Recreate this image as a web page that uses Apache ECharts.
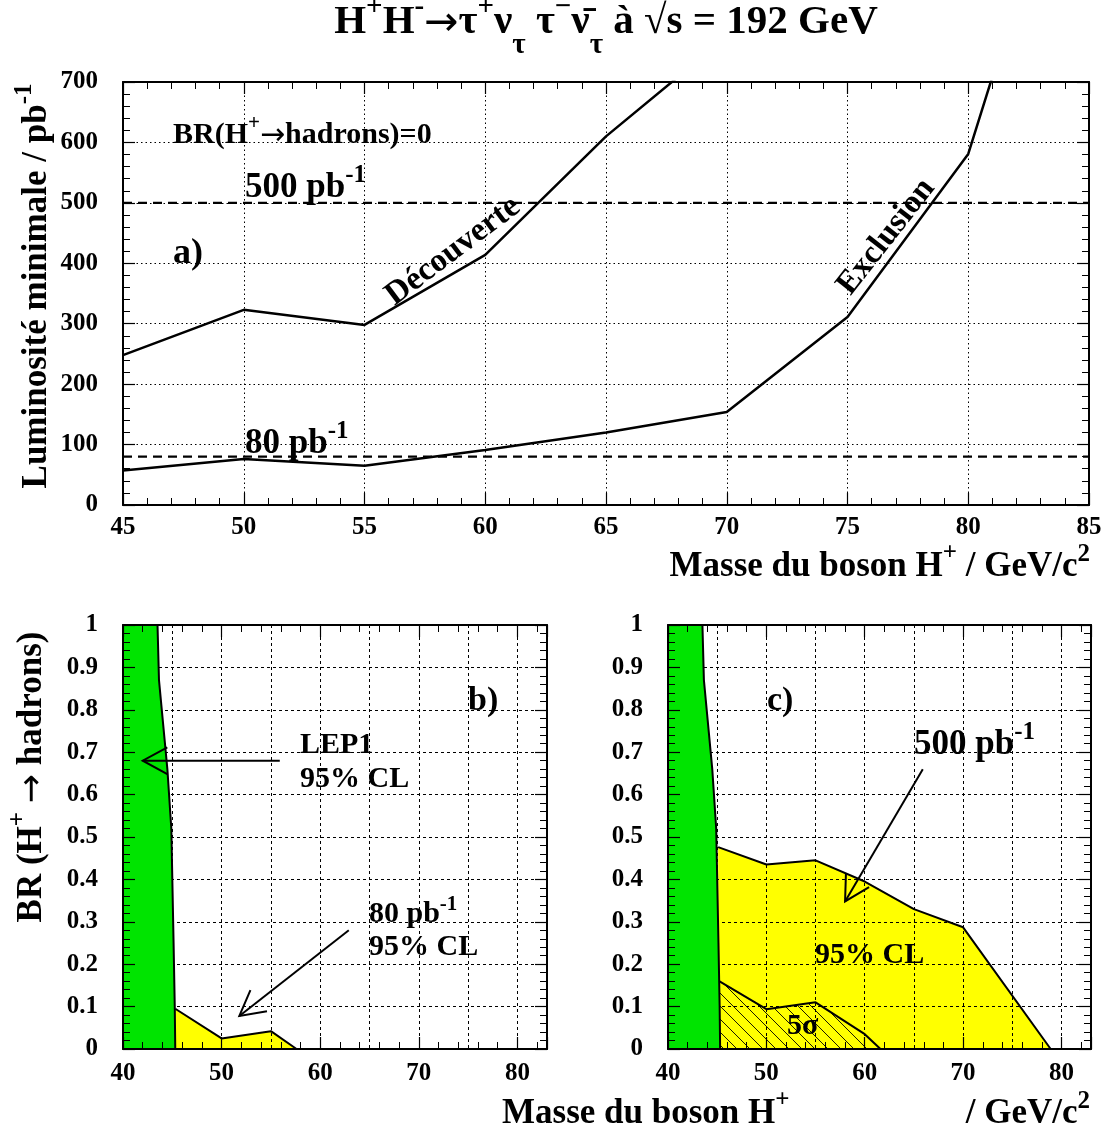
<!DOCTYPE html>
<html><head><meta charset="utf-8">
<script src="https://cdn.jsdelivr.net/npm/echarts@6/dist/echarts.min.js"></script>
<style>html,body{margin:0;padding:0;background:#fff}#c{width:1105px;height:1133px}</style>
</head><body><div id="c"></div>
<script>
// ---------------- data ----------------
// panel a) : minimal luminosity vs mass
const topMassTicks = [45, 50, 55, 60, 65, 70, 75, 80, 85];
const lumiTicks = [0, 100, 200, 300, 400, 500, 600, 700];
const discMass = [45, 50, 55, 60, 65, 70];
const discLumi = [248, 323, 298, 414, 610, 775];
const exclMass = [45, 50, 55, 60, 65, 70, 75, 80, 85];
const exclLumi = [57, 76, 65, 91, 120, 154, 311, 581, 1220];
const lumiLevels = [80, 500];
// panels b) c) : BR(H+ -> hadrons) vs mass
const botMassTicks = [40, 50, 60, 70, 80];
const botMassMax = 83;
const brTicks = [0, 0.1, 0.2, 0.3, 0.4, 0.5, 0.6, 0.7, 0.8, 0.9, 1];
const lep1Mass = [40, 43.5, 43.65, 44.5, 44.9, 45.13, 45.25, 45.3];
const lep1BR = [1, 1, 0.87, 0.66, 0.52, 0.25, 0.1, 0];
const cl80Mass = [45.3, 50, 55, 57.6];
const cl80BR = [0.095, 0.025, 0.042, 0];
const cl500Mass = [45.1, 50, 55, 60, 65, 70, 78.9];
const cl500BR = [0.476, 0.435, 0.445, 0.395, 0.33, 0.287, 0];
const sig5Mass = [45.2, 50, 55, 60, 61.6];
const sig5BR = [0.16, 0.094, 0.11, 0.035, 0];
// arrows: [tailMass, tailBR, tipMass, tipBR]
const arrowsB = [[55.9, 0.68, 42.0, 0.68], [62.9, 0.28, 51.8, 0.078]];
const arrowsC = [[65.9, 0.66, 58.0, 0.348]];

// ---------------- helpers ----------------
const FONT = "'Liberation Serif','Times New Roman',Times,serif";
const ARROW_FONT = "'DejaVu Sans',sans-serif";
const BLACK = '#000';
const GREEN = '#00e400';
const YELLOW = '#ffff00';
const pairs = (xs, ys) => xs.map((x, i) => [x, ys[i]]);
const last = a => a[a.length - 1];

function tickAxis(gridIndex, position, min, max, interval, labelOpts) {
  return {
    type: 'value', gridIndex, position, min, max, interval,
    axisLine: { show: true, onZero: false, lineStyle: { color: BLACK, width: 2 } },
    axisTick: { show: true, inside: true, length: 12, lineStyle: { color: BLACK, width: 1.2 } },
    minorTick: { show: true, splitNumber: 5, length: 7, lineStyle: { color: BLACK, width: 1 } },
    axisLabel: labelOpts ? Object.assign({
      show: true, color: BLACK, fontFamily: FONT, fontWeight: 'bold', fontSize: 25
    }, labelOpts) : { show: false },
    splitLine: { show: false }, minorSplitLine: { show: false },
    z: 5
  };
}
function splitAxis(gridIndex, position, min, max, interval, dash) {
  return {
    type: 'value', gridIndex, position, min, max, interval,
    axisLine: { show: false, onZero: false }, axisTick: { show: false }, axisLabel: { show: false },
    splitLine: { show: true, lineStyle: { color: BLACK, width: 1, type: dash } },
    z: 3
  };
}
function richStyles(f) {
  const base = { fontFamily: FONT, fontWeight: 'bold', fill: BLACK, color: BLACK, lineHeight: Math.round(1.5 * f), verticalAlign: 'top' };
  const sm = Math.round(0.7 * f);
  return {
    b: Object.assign({}, base, { fontSize: f, padding: [Math.round(0.3 * f), 0, 0, 0] }),
    s: Object.assign({}, base, { fontSize: sm, padding: [Math.round(0.125 * f), 0, 0, 0] }),
    p: Object.assign({}, base, { fontSize: sm, padding: [Math.round(0.08 * f), 0, 0, 0] }),
    d: Object.assign({}, base, { fontSize: sm, padding: [Math.round(0.995 * f), 0, 0, 0] }),
    a: Object.assign({}, base, { fontFamily: ARROW_FONT, fontWeight: 'normal', fontSize: f, padding: [Math.round(0.33 * f), 0, 0, 0] })
  };
}
// text placed by its baseline
function label(text, x, baseline, f, align) {
  return {
    type: 'text', x: x, y: baseline - 1.05 * f, z: 100,
    style: { text, rich: richStyles(f), align: align || 'left', verticalAlign: 'top',
             textAlign: align || 'left', textVerticalAlign: 'top' }
  };
}
// rotated text placed by its centre (baseline = centre + 0.3 f)
function rotLabel(text, cx, cy, f, deg) {
  return {
    type: 'text', x: cx, y: cy, rotation: deg * Math.PI / 180, z: 100,
    style: { text, rich: richStyles(f), align: 'center', verticalAlign: 'middle',
             textAlign: 'center', textVerticalAlign: 'middle' }
  };
}
function hatchCanvas() {
  const n = 13;
  const c = document.createElement('canvas'); c.width = n; c.height = n;
  const g = c.getContext('2d');
  g.strokeStyle = '#000'; g.lineWidth = 0.9;
  g.beginPath();
  g.moveTo(-2, -2); g.lineTo(n + 2, n + 2);
  g.moveTo(n - 2, -2); g.lineTo(n + 2, 2);
  g.moveTo(-2, n - 2); g.lineTo(2, n + 2);
  g.stroke();
  return c;
}
function arrowSeries(xi, yi, arr) {
  return {
    type: 'custom', xAxisIndex: xi, yAxisIndex: yi, data: arr, clip: false, z: 6, silent: true,
    encode: { x: [0, 2], y: [1, 3] },
    renderItem: function (params, api) {
      const a = api.coord([api.value(0), api.value(1)]);
      const b = api.coord([api.value(2), api.value(3)]);
      const ang = Math.atan2(a[1] - b[1], a[0] - b[0]);
      const L = 28, h = 0.5;
      const h1 = [b[0] + L * Math.cos(ang + h), b[1] + L * Math.sin(ang + h)];
      const h2 = [b[0] + L * Math.cos(ang - h), b[1] + L * Math.sin(ang - h)];
      return {
        type: 'group', children: [
          { type: 'line', shape: { x1: a[0], y1: a[1], x2: b[0], y2: b[1] }, style: { stroke: BLACK, lineWidth: 2 } },
          { type: 'polyline', shape: { points: [h1, b, h2] }, style: { stroke: BLACK, lineWidth: 2, fill: null } }
        ]
      };
    }
  };
}
function lineSeries(xi, yi, data, extra) {
  return Object.assign({
    type: 'line', xAxisIndex: xi, yAxisIndex: yi, data, symbol: 'none', silent: true,
    lineStyle: { color: BLACK, width: 2.5 }, clip: true, z: 4
  }, extra || {});
}

const mMin = topMassTicks[0], mMax = last(topMassTicks), mInt = topMassTicks[1] - topMassTicks[0];
const lMin = lumiTicks[0], lMax = last(lumiTicks), lInt = lumiTicks[1] - lumiTicks[0];
const bMin = botMassTicks[0], bInt = botMassTicks[1] - botMassTicks[0];
const rMin = brTicks[0], rMax = last(brTicks), rInt = 0.1;
const massFmt = v => (botMassTicks.indexOf(v) >= 0 ? String(v) : '');

const hatch = { image: hatchCanvas(), repeat: 'repeat' };

const option = {
  animation: false,
  backgroundColor: '#fff',
  grid: [
    { left: 123, top: 82, width: 966, height: 423 },
    { left: 123, top: 625, width: 424, height: 424 },
    { left: 668, top: 625, width: 423, height: 424 }
  ],
  xAxis: [
    tickAxis(0, 'bottom', mMin, mMax, mInt, { margin: 10 }),
    tickAxis(0, 'top', mMin, mMax, mInt, null),
    splitAxis(0, 'bottom', mMin, mMax, mInt, [1.5, 3]),
    tickAxis(1, 'bottom', bMin, botMassMax, bInt, { margin: 12, formatter: massFmt, showMaxLabel: false }),
    tickAxis(1, 'top', bMin, botMassMax, bInt, null),
    splitAxis(1, 'bottom', bMin, botMassMax, bInt / 2, [3, 3]),
    tickAxis(2, 'bottom', bMin, botMassMax, bInt, { margin: 12, formatter: massFmt, showMaxLabel: false }),
    tickAxis(2, 'top', bMin, botMassMax, bInt, null),
    splitAxis(2, 'bottom', bMin, botMassMax, bInt / 2, [3, 3])
  ],
  yAxis: [
    tickAxis(0, 'left', lMin, lMax, lInt, { margin: 25 }),
    tickAxis(0, 'right', lMin, lMax, lInt, null),
    splitAxis(0, 'left', lMin, lMax, lInt, [1.5, 3]),
    tickAxis(1, 'left', rMin, rMax, rInt, { margin: 25 }),
    tickAxis(1, 'right', rMin, rMax, rInt, null),
    splitAxis(1, 'left', rMin, rMax, rInt, [3, 3]),
    tickAxis(2, 'left', rMin, rMax, rInt, { margin: 25 }),
    tickAxis(2, 'right', rMin, rMax, rInt, null),
    splitAxis(2, 'left', rMin, rMax, rInt, [3, 3])
  ],
  series: [
    // panel a
    lineSeries(0, 0, pairs(discMass, discLumi)),
    lineSeries(0, 0, pairs(exclMass, exclLumi)),
    ...lumiLevels.map(v => lineSeries(0, 0, [[mMin, v], [mMax, v]], { lineStyle: { color: BLACK, width: 2.2, type: [9, 6] } })),
    // panel b
    lineSeries(3, 3, pairs(cl80Mass, cl80BR), { z: 2, lineStyle: { color: BLACK, width: 2 },
      areaStyle: { color: YELLOW, opacity: 1, origin: 'start' } }),
    lineSeries(3, 3, pairs(lep1Mass, lep1BR), { z: 4, lineStyle: { color: BLACK, width: 2 },
      areaStyle: { color: GREEN, opacity: 1, origin: 'start' } }),
    arrowSeries(3, 3, arrowsB),
    // panel c
    lineSeries(6, 6, pairs(cl500Mass, cl500BR), { z: 2, lineStyle: { color: BLACK, width: 2 },
      areaStyle: { color: YELLOW, opacity: 1, origin: 'start' } }),
    lineSeries(6, 6, pairs(sig5Mass, sig5BR), { z: 2, lineStyle: { color: BLACK, width: 2 },
      areaStyle: { color: hatch, opacity: 1, origin: 'start' } }),
    lineSeries(6, 6, pairs(lep1Mass, lep1BR), { z: 4, lineStyle: { color: BLACK, width: 2 },
      areaStyle: { color: GREEN, opacity: 1, origin: 'start' } }),
    arrowSeries(6, 6, arrowsC)
  ],
  graphic: [
    // title
    label('{b|H}{p|+}{b|H}{p|-}{a|→}{b|τ}{p|+}{b|ν}{d|τ}{b| τ}{p|−}{b|ν̄}{d|τ}{b| à √s = 192 GeV}', 606, 33, 41, 'center'),
    // axis titles
    rotLabel('{b|Luminosité minimale / pb}{s|-1}', 35, 286, 35, 90),
    label('{b|Masse du boson H}{p|+}{b| / GeV/c}{s|2}', 1090, 575, 35, 'right'),
    rotLabel('{b|BR (H}{p|+}{b| }{a|→}{b| hadrons)}', 30, 777, 35, 90),
    label('{b|Masse du boson H}{p|+}', 502, 1122, 35, 'left'),
    label('{b|/ GeV/c}{s|2}', 1090, 1122, 35, 'right'),
    // panel a annotations
    label('{b|BR(H}{p|+}{a|→}{b|hadrons)=0}', 173, 143, 30),
    label('{b|500 pb}{s|-1}', 245, 196, 35),
    label('{b|80 pb}{s|-1}', 245, 452, 35),
    label('{b|a)}', 173, 263, 36),
    rotLabel('{b|Découverte}', 452, 250, 33, 37),
    rotLabel('{b|Exclusion}', 885, 236, 33, 52),
    // panel b annotations
    label('{b|b)}', 468, 710, 34),
    label('{b|LEP1}', 300, 753, 30),
    label('{b|95% CL}', 300, 787, 30),
    label('{b|80 pb}{s|-1}', 369, 922, 30),
    label('{b|95% CL}', 369, 955, 30),
    // panel c annotations
    label('{b|c)}', 767, 710, 34),
    label('{b|500 pb}{s|-1}', 914, 753, 35),
    label('{b|95% CL}', 815, 963, 30),
    label('{b|5σ}', 787, 1034, 30)
  ]
};
const chart = echarts.init(document.getElementById('c'), null, { renderer: 'canvas' });
chart.setOption(option);
</script>
</body></html>
